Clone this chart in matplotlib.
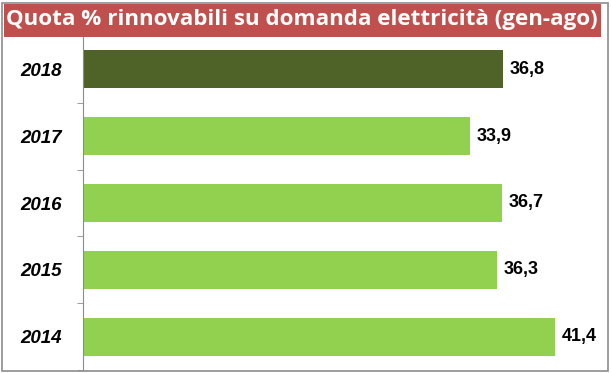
import matplotlib.pyplot as plt
from matplotlib.patches import Rectangle

# data
years = ['2014', '2015', '2016', '2017', '2018']
quota = [41.4, 36.3, 36.7, 33.9, 36.8]
colors = ['#92D050', '#92D050', '#92D050', '#92D050', '#4F6228']
title = 'Quota % rinnovabili su domanda elettricità (gen-ago)'

fig = plt.figure(figsize=(6.11, 3.73), dpi=100)
W, H = 611, 373

# outer border
fig.patches.append(Rectangle((2 / W, 2 / H), 606 / W, 368 / H, transform=fig.transFigure,
                             fill=False, edgecolor='#8c8c8c', linewidth=1.2))
# title band
fig.patches.append(Rectangle((4 / W, (H - 37) / H), 597 / W, 33 / H, transform=fig.transFigure,
                             facecolor='#C0504D', edgecolor='none'))
fig.text(302 / W, (H - 20) / H, title, color='white', fontsize=16.1, fontweight='bold',
         family='Open Sans', ha='center', va='center')

ax = fig.add_axes([83 / W, 3 / H, 520 / W, 334 / H])
pos = range(len(years))
ax.barh(pos, quota, height=0.57, color=colors)
ax.set_xlim(0, 45.6)
ax.set_ylim(-0.5, len(years) - 0.5)

for i, v in enumerate(quota):
    ax.text(v + 0.6, i, f'{v:.1f}'.replace('.', ','), va='center', ha='left',
            fontsize=13, fontweight='bold', family='Liberation Sans')

ax.set_yticks(list(pos))
ax.set_yticklabels(years, fontsize=13.5, fontweight='bold', fontstyle='italic',
                   family='Liberation Sans')
ax.tick_params(axis='y', which='major', length=0, pad=15)
ax.set_yticks([i - 0.5 for i in range(len(years) + 1)], minor=True)
ax.tick_params(axis='y', which='minor', length=4, color='#8c8c8c')
ax.set_xticks([])
for s in ['top', 'right', 'bottom']:
    ax.spines[s].set_visible(False)
ax.spines['left'].set_color('#8c8c8c')

fig.savefig('out.png', dpi=100)
